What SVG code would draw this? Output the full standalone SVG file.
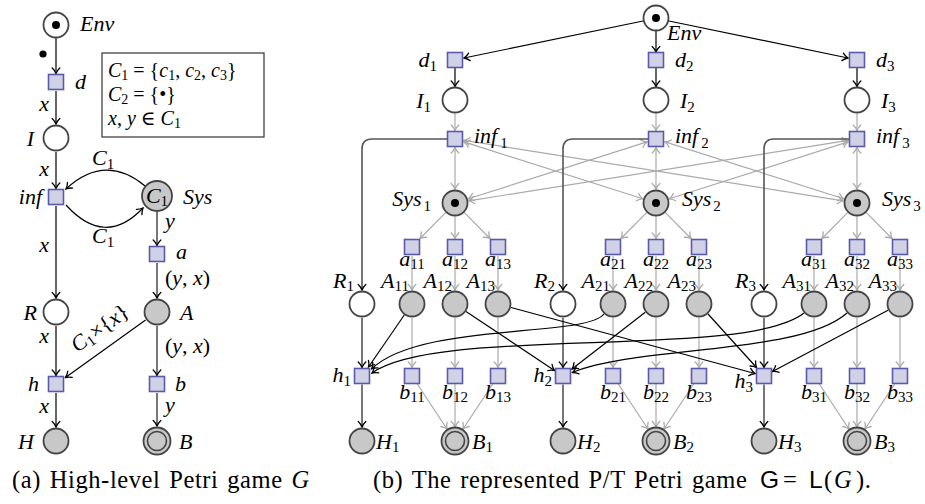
<svg xmlns="http://www.w3.org/2000/svg" width="925" height="504" viewBox="0 0 925 504">
<style>
.m{font-family:"Liberation Serif","DejaVu Serif",serif;font-style:italic;font-size:22px;fill:#000}
.r{font-family:"Liberation Serif","DejaVu Serif",serif;font-style:normal;font-size:22px;fill:#000}
.s{font-style:normal;font-size:15px}
.bx{font-size:20px}
.bs{font-style:normal;font-size:14px}
.cap{font-family:"Liberation Serif","DejaVu Serif",serif;font-style:normal;font-size:24.5px;letter-spacing:0.6px;word-spacing:2px;fill:#000}
.sf{font-family:"Liberation Sans","DejaVu Sans",sans-serif;font-style:normal}
.t{fill:#d0d0e6;stroke:#5a5aaa;stroke-width:1.6}
.p{fill:#fff;stroke:#444;stroke-width:1.8}
.pg{fill:#c8c8c8;stroke:#444;stroke-width:1.8}
.tok{fill:#000}
.e{fill:none;stroke:#000;stroke-width:1.2;marker-end:url(#ak)}
.dk{fill:none;stroke:#555;stroke-width:1.6;marker-end:url(#ak)}
.g{fill:none;stroke:#aaa;stroke-width:1.2;marker-end:url(#ag)}
.gg{fill:none;stroke:#aaa;stroke-width:1.2;marker-end:url(#ag);marker-start:url(#ag)}
</style>
<defs>
<marker id="ak" viewBox="-7 -5 8 10" refX="0" refY="0" markerWidth="8" markerHeight="10" markerUnits="userSpaceOnUse" orient="auto-start-reverse">
<path d="M-5.5,-3.8 C-3.5,-1.6 -1.5,-0.6 0,0 C-1.5,0.6 -3.5,1.6 -5.5,3.8" fill="none" stroke="#000" stroke-width="1.3" stroke-linecap="round"/>
</marker>
<marker id="ag" viewBox="-7 -5 8 10" refX="0" refY="0" markerWidth="8" markerHeight="10" markerUnits="userSpaceOnUse" orient="auto-start-reverse">
<path d="M-5.5,-3.8 C-3.5,-1.6 -1.5,-0.6 0,0 C-1.5,0.6 -3.5,1.6 -5.5,3.8" fill="none" stroke="#aaa" stroke-width="1.3" stroke-linecap="round"/>
</marker>
</defs>

<!-- ============ (a) connectors ============ -->
<g id="a-connectors">
<path class="e" d="M56,38 V73.5"/>
<path class="e" d="M56,91 V124"/>
<path class="e" d="M56,152 V188.5"/>
<path class="e" d="M56,206 V298"/>
<path class="e" d="M56,326 V375.5"/>
<path class="e" d="M56,393 V427"/>
<path class="e" d="M145,186 Q105,153 66,189"/>
<path class="e" d="M66,205 Q105,248 143,208"/>
<path class="dk" d="M157,211.5 V245.5"/>
<path class="dk" d="M157,263 V298"/>
<path class="dk" d="M157,326 V375.5"/>
<path class="dk" d="M157,393 V426"/>
<path class="e" d="M145.6,320.1 L65.5,377.5"/>
<circle cx="43" cy="54" r="3.6" class="tok"/>
<text class="m" x="49" y="111" text-anchor="end">x</text>
<text class="m" x="49" y="176" text-anchor="end">x</text>
<text class="m" x="49" y="252" text-anchor="end">x</text>
<text class="m" x="49" y="343" text-anchor="end">x</text>
<text class="m" x="49" y="413" text-anchor="end">x</text>
<text class="m" x="92" y="165">C<tspan class="s" dy="4">1</tspan></text>
<text class="m" x="92" y="243">C<tspan class="s" dy="4">1</tspan></text>
<text class="m" x="165" y="228">y</text>
<text class="m" x="165" y="412">y</text>
<text class="r" x="165" y="285">(<tspan class="m">y</tspan>, <tspan class="m">x</tspan>)</text>
<text class="r" x="165" y="353">(<tspan class="m">y</tspan>, <tspan class="m">x</tspan>)</text>
<text class="m" transform="translate(104,334) rotate(-35.5)" text-anchor="middle" font-size="19">C<tspan class="s" font-size="13" dy="3">1</tspan><tspan class="r" font-size="19" dy="-3">×{</tspan>x<tspan class="r" font-size="19">}</tspan></text>
</g>

<!-- ============ (a) nodes ============ -->
<g id="a-Env"><circle cx="56" cy="25" r="12.5" class="p"/><circle cx="56" cy="25" r="4" class="tok"/><text class="m" x="80" y="31">Env</text></g>
<g id="a-d"><rect x="48.5" y="74.5" width="15" height="15" class="t"/><text class="m" x="75" y="89">d</text></g>
<g id="a-I"><circle cx="56" cy="138" r="12.5" class="p"/><text class="m" x="34" y="146" text-anchor="end">I</text></g>
<g id="a-inf"><rect x="48.5" y="189.5" width="15" height="15" class="t"/><text class="m" x="42" y="204" text-anchor="end">inf</text></g>
<g id="a-Sys"><circle cx="157" cy="196" r="15" class="pg"/><text class="m" x="157" y="203" text-anchor="middle" font-size="19">C<tspan class="s" font-size="13" dy="3">1</tspan></text><text class="m" x="183" y="204">Sys</text></g>
<g id="a-a"><rect x="149.5" y="246.5" width="15" height="15" class="t"/><text class="m" x="176" y="259">a</text></g>
<g id="a-R"><circle cx="56" cy="312" r="12.5" class="p"/><text class="m" x="37" y="320" text-anchor="end">R</text></g>
<g id="a-A"><circle cx="157" cy="312" r="12.5" class="pg"/><text class="m" x="180" y="320">A</text></g>
<g id="a-h"><rect x="48.5" y="376.5" width="15" height="15" class="t"/><text class="m" x="39" y="391" text-anchor="end">h</text></g>
<g id="a-b"><rect x="149.5" y="376.5" width="15" height="15" class="t"/><text class="m" x="175" y="391">b</text></g>
<g id="a-H"><circle cx="56" cy="441" r="12.5" class="pg"/><text class="m" x="34" y="449" text-anchor="end">H</text></g>
<g id="a-B"><circle cx="157" cy="441" r="13.5" class="pg"/><circle cx="157" cy="441" r="9.5" fill="none" stroke="#444" stroke-width="1.6"/><text class="m" x="179" y="449">B</text></g>
<g id="a-box"><rect x="102" y="53" width="162" height="84" fill="none" stroke="#333" stroke-width="1.2"/>
<text class="m bx" x="108" y="77">C<tspan class="bs" dy="3">1</tspan><tspan class="r bx" dy="-3"> = {</tspan>c<tspan class="bs" dy="3">1</tspan><tspan class="r bx" dy="-3">, </tspan>c<tspan class="bs" dy="3">2</tspan><tspan class="r bx" dy="-3">, </tspan>c<tspan class="bs" dy="3">3</tspan><tspan class="r bx" dy="-3">}</tspan></text>
<text class="m bx" x="108" y="101">C<tspan class="bs" dy="3">2</tspan><tspan class="r bx" dy="-3"> = {•}</tspan></text>
<text class="m bx" x="108" y="125">x<tspan class="r bx">, </tspan>y<tspan class="r bx"> ∈ </tspan>C<tspan class="bs" dy="3">1</tspan></text>
</g>
<text class="cap" x="12" y="488">(a) High-level Petri game <tspan font-style="italic">G</tspan></text>

<!-- ============ (b) connectors ============ -->
<g id="b-connectors">
<path class="e" d="M643,21 L464,58"/>
<path class="e" d="M656,31 V52"/>
<path class="e" d="M669,21 L848,58"/>
<path class="e" d="M455,68 V86.5"/><path class="e" d="M656,68 V86.5"/><path class="e" d="M857,68 V86.5"/>
<path class="g" d="M455,113.5 V130.5"/><path class="g" d="M656,113.5 V130.5"/><path class="g" d="M857,113.5 V130.5"/>
<path class="gg" d="M455,147.5 V189"/><path class="gg" d="M656,147.5 V189"/><path class="gg" d="M857,147.5 V189"/>
<path class="gg" d="M464,141.9 L642.7,198.8"/>
<path class="gg" d="M464,140.4 L843.2,200.8"/>
<path class="gg" d="M647,141.9 L468.3,198.8"/>
<path class="gg" d="M665,141.9 L843.7,198.8"/>
<path class="gg" d="M848,140.4 L468.8,200.8"/>
<path class="gg" d="M848,141.9 L669.3,198.8"/>
<path class="dk" d="M447,139 H372 Q362,139 362,149 V290"/>
<path class="dk" d="M648,139 H573 Q563,139 563,149 V290"/>
<path class="dk" d="M849,139 H774 Q764,139 764,149 V290"/>
<path class="g" d="M445.6,212.7 L420,238.5"/><path class="g" d="M455,216.5 V238.5"/><path class="g" d="M464.4,212.7 L490,238.5"/>
<path class="g" d="M646.6,212.7 L621,238.5"/><path class="g" d="M656,216.5 V238.5"/><path class="g" d="M665.4,212.7 L691,238.5"/>
<path class="g" d="M847.6,212.7 L822,238.5"/><path class="g" d="M857,216.5 V238.5"/><path class="g" d="M866.4,212.7 L892,238.5"/>
<path class="g" d="M412,256 V290"/><path class="g" d="M455,256 V290"/><path class="g" d="M498,256 V290"/>
<path class="g" d="M613,256 V290"/><path class="g" d="M656,256 V290"/><path class="g" d="M699,256 V290"/>
<path class="g" d="M814,256 V290"/><path class="g" d="M857,256 V290"/><path class="g" d="M900,256 V290"/>
<path class="g" d="M412,318 V367.5"/><path class="g" d="M455,318 V367.5"/><path class="g" d="M498,318 V367.5"/>
<path class="g" d="M613,318 V367.5"/><path class="g" d="M656,318 V367.5"/><path class="g" d="M699,318 V367.5"/>
<path class="g" d="M814,318 V367.5"/><path class="g" d="M857,318 V367.5"/><path class="g" d="M900,318 V367.5"/>
<path class="g" d="M417.3,384 L447,429"/><path class="g" d="M455,384 V427"/><path class="g" d="M492.7,384 L463,429"/>
<path class="g" d="M618.3,384 L648,429"/><path class="g" d="M656,384 V427"/><path class="g" d="M693.7,384 L664,429"/>
<path class="g" d="M819.3,384 L849,429"/><path class="g" d="M857,384 V427"/><path class="g" d="M894.7,384 L865,429"/>
<path class="dk" d="M362,318 V367.5"/><path class="dk" d="M563,318 V367.5"/><path class="dk" d="M764,318 V367.5"/>
<path class="dk" d="M362,384.5 V427"/><path class="dk" d="M563,384.5 V427"/><path class="dk" d="M764,384.5 V427"/>
<path class="e" d="M404.3,315 L368.5,367"/>
<path class="e" d="M466,311.5 L554.5,370.5"/>
<path class="e" d="M511,307.5 L755,373.5"/>
<path class="e" d="M645.3,312.3 L572,369"/>
<path class="e" d="M708,314 L756.5,367.5"/>
<path class="e" d="M888,310.3 L772.5,371.5"/>
<path class="e" d="M604,314 C585,338 420,322 371.5,369"/>
<path class="e" d="M804,313 C745,360 440,325 372,373"/>
<path class="e" d="M847,313 C800,355 640,345 572.5,372.5"/>
</g>

<!-- ============ (b) nodes ============ -->
<g id="b-Env"><circle cx="656" cy="18" r="12.5" class="p"/><circle cx="656" cy="18" r="4" class="tok"/><text class="m" x="667" y="40">Env</text></g>
<g id="b-d1"><rect x="447.5" y="52.5" width="15" height="15" class="t"/><text class="m" x="437" y="67" text-anchor="end">d<tspan class="s" dy="4">1</tspan></text></g>
<g id="b-d2"><rect x="648.5" y="52.5" width="15" height="15" class="t"/><text class="m" x="675" y="67">d<tspan class="s" dy="4">2</tspan></text></g>
<g id="b-d3"><rect x="849.5" y="52.5" width="15" height="15" class="t"/><text class="m" x="876" y="67">d<tspan class="s" dy="4">3</tspan></text></g>
<g id="b-I1"><circle cx="455" cy="100" r="12.5" class="p"/><text class="m" x="431" y="108" text-anchor="end">I<tspan class="s" dy="4">1</tspan></text></g>
<g id="b-I2"><circle cx="656" cy="100" r="12.5" class="p"/><text class="m" x="680" y="108">I<tspan class="s" dy="4">2</tspan></text></g>
<g id="b-I3"><circle cx="857" cy="100" r="12.5" class="p"/><text class="m" x="881" y="108">I<tspan class="s" dy="4">3</tspan></text></g>
<g id="b-inf1"><rect x="447.5" y="131.5" width="15" height="15" class="t"/><text class="m" x="474" y="143">inf<tspan class="s" dx="3" dy="5">1</tspan></text></g>
<g id="b-inf2"><rect x="648.5" y="131.5" width="15" height="15" class="t"/><text class="m" x="675" y="143">inf<tspan class="s" dx="3" dy="5">2</tspan></text></g>
<g id="b-inf3"><rect x="849.5" y="131.5" width="15" height="15" class="t"/><text class="m" x="876" y="143">inf<tspan class="s" dx="3" dy="5">3</tspan></text></g>
<g id="b-Sys1"><circle cx="455" cy="203" r="12.5" class="pg"/><circle cx="455" cy="203" r="4" class="tok"/><text class="m" x="431" y="206" text-anchor="end">Sys<tspan class="s" dx="2" dy="5">1</tspan></text></g>
<g id="b-Sys2"><circle cx="656" cy="203" r="12.5" class="pg"/><circle cx="656" cy="203" r="4" class="tok"/><text class="m" x="682" y="206">Sys<tspan class="s" dx="2" dy="5">2</tspan></text></g>
<g id="b-Sys3"><circle cx="857" cy="203" r="12.5" class="pg"/><circle cx="857" cy="203" r="4" class="tok"/><text class="m" x="882" y="206">Sys<tspan class="s" dx="2" dy="5">3</tspan></text></g>

<g id="b-a11"><rect x="404.5" y="239.5" width="15" height="15" class="t"/><text class="m" x="412" y="266" text-anchor="middle">a<tspan class="s" dy="3">11</tspan></text></g>
<g id="b-a12"><rect x="447.5" y="239.5" width="15" height="15" class="t"/><text class="m" x="455" y="266" text-anchor="middle">a<tspan class="s" dy="3">12</tspan></text></g>
<g id="b-a13"><rect x="490.5" y="239.5" width="15" height="15" class="t"/><text class="m" x="498" y="266" text-anchor="middle">a<tspan class="s" dy="3">13</tspan></text></g>
<g id="b-a21"><rect x="605.5" y="239.5" width="15" height="15" class="t"/><text class="m" x="613" y="266" text-anchor="middle">a<tspan class="s" dy="3">21</tspan></text></g>
<g id="b-a22"><rect x="648.5" y="239.5" width="15" height="15" class="t"/><text class="m" x="656" y="266" text-anchor="middle">a<tspan class="s" dy="3">22</tspan></text></g>
<g id="b-a23"><rect x="691.5" y="239.5" width="15" height="15" class="t"/><text class="m" x="699" y="266" text-anchor="middle">a<tspan class="s" dy="3">23</tspan></text></g>
<g id="b-a31"><rect x="806.5" y="239.5" width="15" height="15" class="t"/><text class="m" x="814" y="266" text-anchor="middle">a<tspan class="s" dy="3">31</tspan></text></g>
<g id="b-a32"><rect x="849.5" y="239.5" width="15" height="15" class="t"/><text class="m" x="857" y="266" text-anchor="middle">a<tspan class="s" dy="3">32</tspan></text></g>
<g id="b-a33"><rect x="892.5" y="239.5" width="15" height="15" class="t"/><text class="m" x="900" y="266" text-anchor="middle">a<tspan class="s" dy="3">33</tspan></text></g>

<g id="b-R1"><circle cx="362" cy="304" r="12.5" class="p"/><text class="m" x="354" y="288" text-anchor="end">R<tspan class="s" dy="3">1</tspan></text></g>
<g id="b-R2"><circle cx="563" cy="304" r="12.5" class="p"/><text class="m" x="555" y="288" text-anchor="end">R<tspan class="s" dy="3">2</tspan></text></g>
<g id="b-R3"><circle cx="764" cy="304" r="12.5" class="p"/><text class="m" x="756" y="288" text-anchor="end">R<tspan class="s" dy="3">3</tspan></text></g>
<g id="b-A11"><circle cx="412" cy="304" r="12.5" class="pg"/><text class="m" x="409" y="288" text-anchor="end">A<tspan class="s" dy="3">11</tspan></text></g>
<g id="b-A12"><circle cx="455" cy="304" r="12.5" class="pg"/><text class="m" x="452" y="288" text-anchor="end">A<tspan class="s" dy="3">12</tspan></text></g>
<g id="b-A13"><circle cx="498" cy="304" r="12.5" class="pg"/><text class="m" x="495" y="288" text-anchor="end">A<tspan class="s" dy="3">13</tspan></text></g>
<g id="b-A21"><circle cx="613" cy="304" r="12.5" class="pg"/><text class="m" x="610" y="288" text-anchor="end">A<tspan class="s" dy="3">21</tspan></text></g>
<g id="b-A22"><circle cx="656" cy="304" r="12.5" class="pg"/><text class="m" x="653" y="288" text-anchor="end">A<tspan class="s" dy="3">22</tspan></text></g>
<g id="b-A23"><circle cx="699" cy="304" r="12.5" class="pg"/><text class="m" x="696" y="288" text-anchor="end">A<tspan class="s" dy="3">23</tspan></text></g>
<g id="b-A31"><circle cx="814" cy="304" r="12.5" class="pg"/><text class="m" x="811" y="288" text-anchor="end">A<tspan class="s" dy="3">31</tspan></text></g>
<g id="b-A32"><circle cx="857" cy="304" r="12.5" class="pg"/><text class="m" x="854" y="288" text-anchor="end">A<tspan class="s" dy="3">32</tspan></text></g>
<g id="b-A33"><circle cx="900" cy="304" r="12.5" class="pg"/><text class="m" x="897" y="288" text-anchor="end">A<tspan class="s" dy="3">33</tspan></text></g>

<g id="b-h1"><rect x="354.5" y="368.5" width="15" height="15" class="t"/><text class="m" x="351" y="382" text-anchor="end">h<tspan class="s" dy="4">1</tspan></text></g>
<g id="b-h2"><rect x="555.5" y="368.5" width="15" height="15" class="t"/><text class="m" x="552" y="382" text-anchor="end">h<tspan class="s" dy="4">2</tspan></text></g>
<g id="b-h3"><rect x="756.5" y="368.5" width="15" height="15" class="t"/><text class="m" x="753" y="388" text-anchor="end">h<tspan class="s" dy="4">3</tspan></text></g>

<g id="b-b11"><rect x="404.5" y="368.5" width="15" height="15" class="t"/><text class="m" x="412" y="399" text-anchor="middle">b<tspan class="s" dy="3">11</tspan></text></g>
<g id="b-b12"><rect x="447.5" y="368.5" width="15" height="15" class="t"/><text class="m" x="455" y="399" text-anchor="middle">b<tspan class="s" dy="3">12</tspan></text></g>
<g id="b-b13"><rect x="490.5" y="368.5" width="15" height="15" class="t"/><text class="m" x="498" y="399" text-anchor="middle">b<tspan class="s" dy="3">13</tspan></text></g>
<g id="b-b21"><rect x="605.5" y="368.5" width="15" height="15" class="t"/><text class="m" x="613" y="399" text-anchor="middle">b<tspan class="s" dy="3">21</tspan></text></g>
<g id="b-b22"><rect x="648.5" y="368.5" width="15" height="15" class="t"/><text class="m" x="656" y="399" text-anchor="middle">b<tspan class="s" dy="3">22</tspan></text></g>
<g id="b-b23"><rect x="691.5" y="368.5" width="15" height="15" class="t"/><text class="m" x="699" y="399" text-anchor="middle">b<tspan class="s" dy="3">23</tspan></text></g>
<g id="b-b31"><rect x="806.5" y="368.5" width="15" height="15" class="t"/><text class="m" x="814" y="399" text-anchor="middle">b<tspan class="s" dy="3">31</tspan></text></g>
<g id="b-b32"><rect x="849.5" y="368.5" width="15" height="15" class="t"/><text class="m" x="857" y="399" text-anchor="middle">b<tspan class="s" dy="3">32</tspan></text></g>
<g id="b-b33"><rect x="892.5" y="368.5" width="15" height="15" class="t"/><text class="m" x="900" y="399" text-anchor="middle">b<tspan class="s" dy="3">33</tspan></text></g>

<g id="b-H1"><circle cx="362" cy="441" r="12.5" class="pg"/><text class="m" x="376" y="449">H<tspan class="s" dy="3">1</tspan></text></g>
<g id="b-H2"><circle cx="563" cy="441" r="12.5" class="pg"/><text class="m" x="577" y="449">H<tspan class="s" dy="3">2</tspan></text></g>
<g id="b-H3"><circle cx="764" cy="441" r="12.5" class="pg"/><text class="m" x="778" y="449">H<tspan class="s" dy="3">3</tspan></text></g>
<g id="b-B1"><circle cx="455" cy="441" r="13.5" class="pg"/><circle cx="455" cy="441" r="9.5" fill="none" stroke="#444" stroke-width="1.6"/><text class="m" x="472" y="449">B<tspan class="s" dy="3">1</tspan></text></g>
<g id="b-B2"><circle cx="656" cy="441" r="13.5" class="pg"/><circle cx="656" cy="441" r="9.5" fill="none" stroke="#444" stroke-width="1.6"/><text class="m" x="673" y="449">B<tspan class="s" dy="3">2</tspan></text></g>
<g id="b-B3"><circle cx="857" cy="441" r="13.5" class="pg"/><circle cx="857" cy="441" r="9.5" fill="none" stroke="#444" stroke-width="1.6"/><text class="m" x="874" y="449">B<tspan class="s" dy="3">3</tspan></text></g>

<text class="cap" x="373" y="488">(b) The represented P/T Petri game <tspan class="sf" x="760">G</tspan><tspan x="783">=</tspan><tspan class="sf" x="809">L</tspan><tspan x="824">(</tspan><tspan font-style="italic" x="834">G</tspan><tspan x="856">).</tspan></text>
</svg>
